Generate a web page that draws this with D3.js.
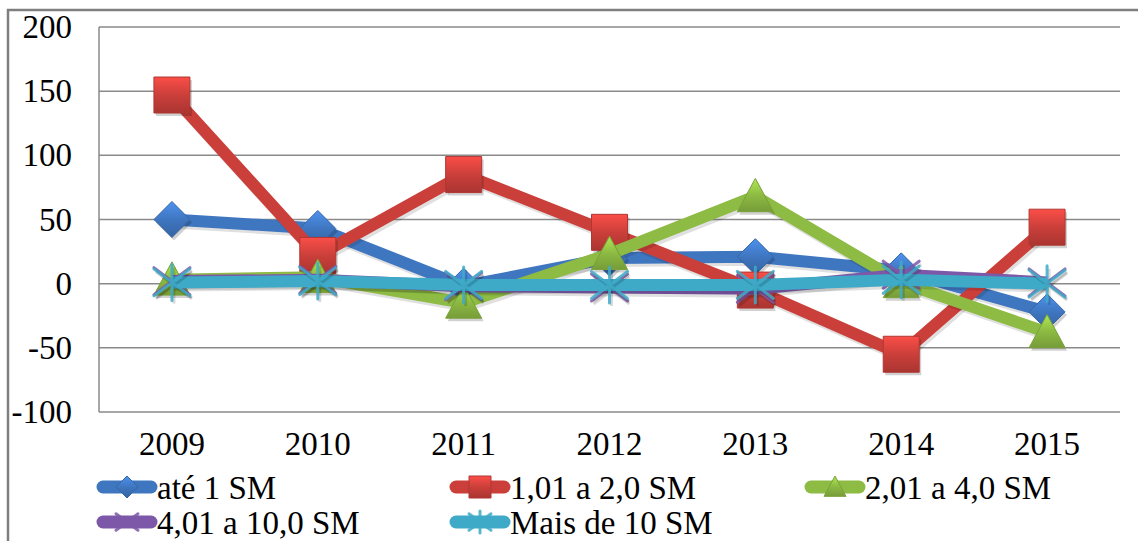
<!DOCTYPE html>
<html><head><meta charset="utf-8">
<script src="https://cdn.jsdelivr.net/npm/d3@7"></script>
</head><body style="margin:0">
<svg id="c" width="1138" height="541" font-family="Liberation Serif"></svg>
<script>
const years = ["2009","2010","2011","2012","2013","2014","2015"];
const seriesNames = ["até 1 SM","1,01 a 2,0 SM","2,01 a 4,0 SM","4,01 a 10,0 SM","Mais de 10 SM"];
const ate1 = [50, 43, -2, 20, 21, 10, -22];
const de1a2 = [147, 22, 85, 40, -5, -55, 44];
const de2a4 = [3, 5, -15, 23, 68, 1, -38];
const de4a10 = [2, 3, -2, -3, -4, 7, 1];
const mais10 = [1, 2, -1, -1, -1, 3, 0];
const yTicks = [-100, -50, 0, 50, 100, 150, 200];

const colors = ["#3f76c0","#cb3f3a","#8dbb43","#7d58a8","#3eaac8"];
const shapes = ["diamond","square","triangle","x","star"];
const values = [ate1, de1a2, de2a4, de4a10, mais10];

const svg = d3.select("#c");
const plot = {l: 99, r: 1120, t: 27, b: 412};
const FONT = "Liberation Serif";
const FS = 33;

svg.append("rect").attr("x", 8).attr("y", 10).attr("width", 1145).attr("height", 545)
  .attr("fill", "#fff").attr("stroke", "#7f7f7f").attr("stroke-width", 2.5);

const defs = svg.append("defs");
colors.forEach((c, i) => {
  const g = defs.append("linearGradient").attr("id","g"+i).attr("x1","0").attr("y1","0").attr("x2","0").attr("y2","1");
  g.append("stop").attr("offset","0").attr("stop-color", d3.color(c).brighter(0.6));
  g.append("stop").attr("offset","0.5").attr("stop-color", c);
  g.append("stop").attr("offset","1").attr("stop-color", d3.color(c).darker(0.5));
});

const x = d3.scaleBand().domain(years).range([plot.l, plot.r]);
const y = d3.scaleLinear().domain([-100, 200]).range([plot.b, plot.t]);

svg.append("g").selectAll("line").data(yTicks).join("line")
  .attr("x1", plot.l).attr("x2", plot.r)
  .attr("y1", d => y(d)).attr("y2", d => y(d))
  .attr("stroke", "#8a8a8a").attr("stroke-width", 1.5);
svg.append("line").attr("x1", plot.l).attr("x2", plot.l).attr("y1", plot.t).attr("y2", plot.b)
  .attr("stroke", "#8a8a8a").attr("stroke-width", 1.5);

const yAxis = d3.axisLeft(y).tickValues(yTicks).tickSize(0).tickPadding(27).tickFormat(d => String(d));
const ya = svg.append("g").attr("transform", `translate(${plot.l},0)`).call(yAxis)
  .attr("font-family", FONT).attr("font-size", FS);
ya.select(".domain").remove();
ya.selectAll("text").attr("font-family", FONT).attr("font-size", FS).attr("fill", "#000");

const xAxis = d3.axisBottom(x).tickSize(0).tickPadding(20);
const xa = svg.append("g").attr("transform", `translate(0,${plot.b})`).call(xAxis)
  .attr("font-family", FONT).attr("font-size", FS);
xa.select(".domain").remove();
xa.selectAll("text").attr("font-family", FONT).attr("font-size", FS).attr("fill", "#000");

function markerPath(shape, s) {
  const h = s / 2;
  switch (shape) {
    case "diamond": return `M0,${-h}L${h},0L0,${h}L${-h},0Z`;
    case "square": return `M${-h},${-h}H${h}V${h}H${-h}Z`;
    case "triangle": return `M0,${-h}L${h},${h*0.85}L${-h},${h*0.85}Z`;
    case "x": return `M${-h},${-h*0.75}L${h},${h*0.75}M${h},${-h*0.75}L${-h},${h*0.75}`;
    case "star": return `M${-h},${-h*0.75}L${h},${h*0.75}M${h},${-h*0.75}L${-h},${h*0.75}M0,${-h}L0,${h}`;
  }
}
function drawMarker(g, shape, i, s, shadow) {
  const open = (shape === "x" || shape === "star");
  if (shadow) {
    g.append("path").attr("d", markerPath(shape, s)).attr("transform", "translate(2,3)")
      .attr("fill", open ? "none" : "#000").attr("fill-opacity", 0.18)
      .attr("stroke", "#000").attr("stroke-opacity", open ? 0.15 : 0).attr("stroke-width", 3);
  }
  if (open) {
    g.append("path").attr("d", markerPath(shape, s)).attr("fill", "none")
      .attr("stroke", colors[i]).attr("stroke-width", 3).attr("stroke-linecap","round")
      .attr("stroke-opacity", 0.85);
  } else {
    g.append("path").attr("d", markerPath(shape, s)).attr("fill", `url(#g${i})`)
      .attr("stroke", d3.color(colors[i]).darker(0.4)).attr("stroke-width", 1);
  }
}

const line = d3.line().x((d, j) => x(years[j]) + x.bandwidth() / 2).y(d => y(d));

values.forEach((vals, i) => {
  const g = svg.append("g");
  g.append("path").datum(vals).attr("d", line).attr("fill", "none").attr("transform", "translate(2,3)")
    .attr("stroke", "#000").attr("stroke-opacity", 0.12).attr("stroke-width", 12).attr("stroke-linejoin", "round");
  g.append("path").datum(vals).attr("d", line).attr("fill", "none")
    .attr("stroke", colors[i]).attr("stroke-width", 12).attr("stroke-linejoin", "round");
  vals.forEach((v, j) => {
    const m = g.append("g").attr("transform", `translate(${x(years[j]) + x.bandwidth()/2},${y(v)})`);
    drawMarker(m, shapes[i], i, 36, true);
  });
});

const legendPos = [[97, 487], [450, 487], [805, 487], [97, 522], [450, 522]];
seriesNames.forEach((name, i) => {
  const [lx, ly] = legendPos[i];
  const g = svg.append("g").attr("transform", `translate(${lx},${ly})`);
  g.append("line").attr("x1", 6).attr("x2", 54).attr("y1", 0).attr("y2", 0)
    .attr("stroke", colors[i]).attr("stroke-width", 13).attr("stroke-linecap", "round");
  const m = g.append("g").attr("transform", "translate(30,0)");
  drawMarker(m, shapes[i], i, 22, false);
  g.append("text").attr("x", 60).attr("y", 0).attr("dy", "0.35em")
    .attr("font-family", FONT).attr("font-size", FS).attr("fill", "#000").text(name);
});
</script>
</body></html>
